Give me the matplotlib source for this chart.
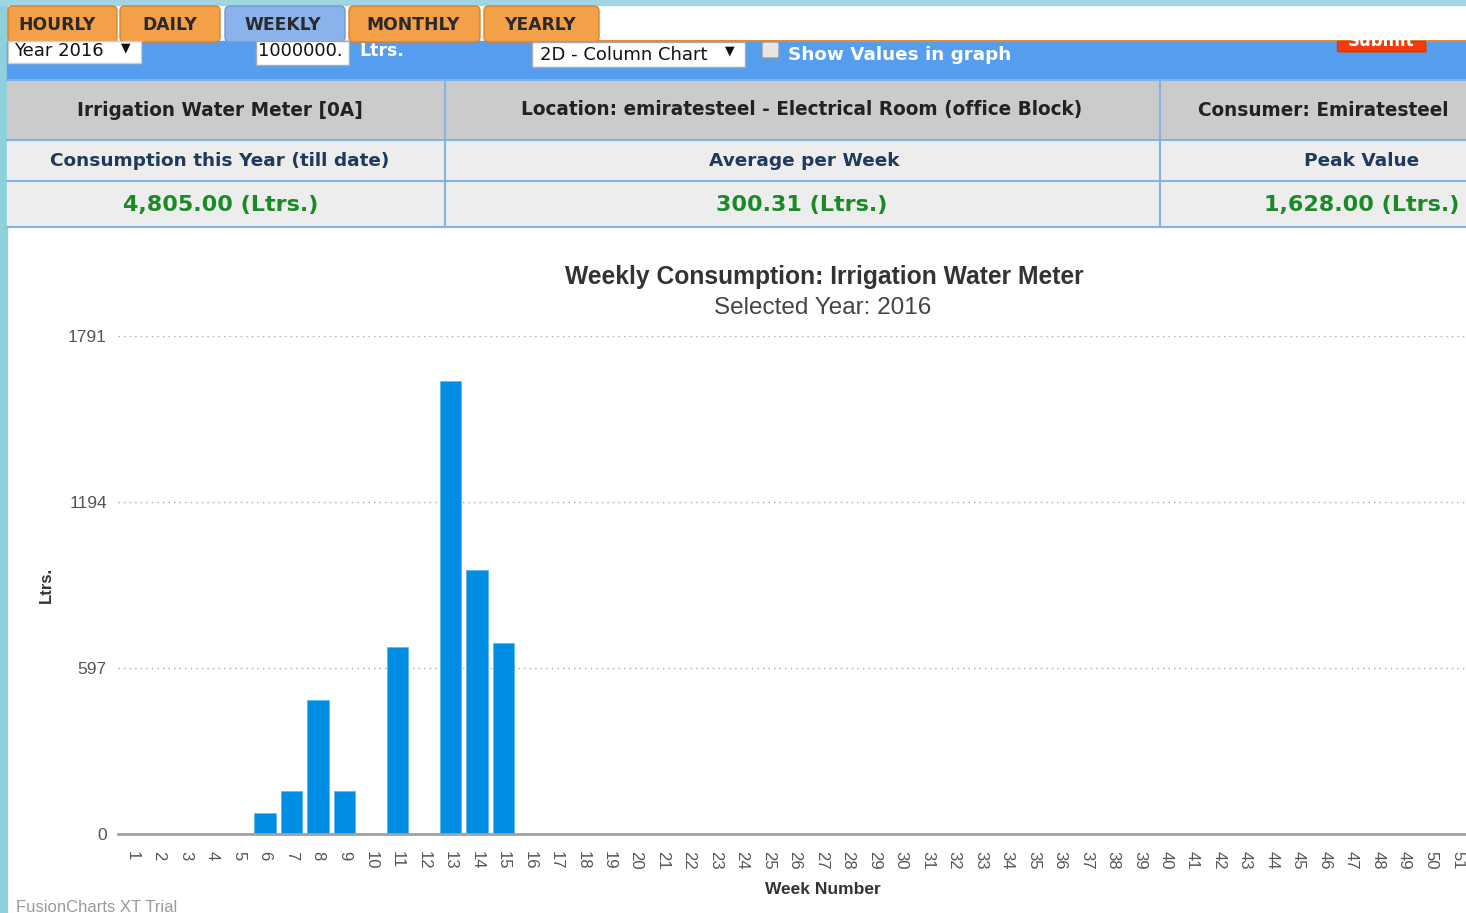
import matplotlib
matplotlib.use("Agg")
import matplotlib.pyplot as plt
from matplotlib.patches import Rectangle, FancyBboxPatch

# ---------------- data ----------------
tabs = ["HOURLY", "DAILY", "WEEKLY", "MONTHLY", "YEARLY"]
active_tab = "WEEKLY"
header_row = ["Irrigation Water Meter [0A]",
              "Location: emiratesteel - Electrical Room (office Block)",
              "Consumer: Emiratesteel"]
label_row = ["Consumption this Year (till date)", "Average per Week", "Peak Value"]
value_row = ["4,805.00 (Ltrs.)", "300.31 (Ltrs.)", "1,628.00 (Ltrs.)"]

weeks = [str(w) for w in range(1, 53)]
consumption = [0, 0, 0, 0, 0, 75, 155, 482, 155, 0, 674, 0, 1628, 950, 686, 0,
               0, 0, 0, 0, 0, 0, 0, 0, 0, 0, 0, 0, 0, 0, 0, 0, 0, 0, 0, 0,
               0, 0, 0, 0, 0, 0, 0, 0, 0, 0, 0, 0, 0, 0, 0, 0]
y_ticks = [0, 597, 1194, 1791]
chart_title = "Weekly Consumption: Irrigation Water Meter"
chart_subtitle = "Selected Year: 2016"

# ---------------- figure ----------------
W, H = 1466, 913
fig = plt.figure(figsize=(W / 100, H / 100), dpi=100)
fig.patch.set_facecolor("white")

ui = fig.add_axes([0, 0, 1, 1])
ui.set_xlim(0, W)
ui.set_ylim(H, 0)
ui.axis("off")

UIF = ["DejaVu Sans"]
CHF = ["Liberation Sans"]

# background texture strips
ui.add_patch(Rectangle((0, 0), 7, H, color="#8ed0dc", zorder=0))
ui.add_patch(Rectangle((0, 0), W, 5, color="#9fd6e2", zorder=0))

# tabs
tab_x = [(8, 117), (120, 220), (225, 345), (349, 480), (484, 599)]
tab_text_x = [57, 170, 283, 413, 540]
for name, (x0, x1), tx in zip(tabs, tab_x, tab_text_x):
    col = "#8ab3ec" if name == active_tab else "#f4a049"
    ec = "#6f98d6" if name == active_tab else "#d9822e"
    ui.add_patch(FancyBboxPatch((x0, 6), x1 - x0, 36, boxstyle="round,pad=0,rounding_size=5",
                                fc=col, ec=ec, lw=1, zorder=2))
    ui.text(tx, 25, name, ha="center", va="center", fontsize=12.3,
            fontweight="bold", color="#2a2a2a", family=UIF, zorder=3)
ui.plot([599, W], [41, 41], color="#e38a33", lw=1.5, zorder=2)

# blue control bar
ui.add_patch(Rectangle((7, 41), W - 7, 39, color="#559eef", zorder=1))
ui.add_patch(Rectangle((8, 41), 133, 22, fc="white", ec="#cccccc", zorder=2))
ui.text(14, 51, "Year 2016", ha="left", va="center", fontsize=13, color="#111", family=UIF, zorder=3)
ui.text(126, 48, "▼", ha="center", va="center", fontsize=9, color="#111", family=UIF, zorder=3)
ui.add_patch(Rectangle((256, 41), 93, 24, fc="white", ec="#aaaaaa", zorder=2))
ui.text(258, 51, "1000000.", ha="left", va="center", fontsize=12.8, color="#111", family=UIF, zorder=3)
ui.text(359, 51, "Ltrs.", ha="left", va="center", fontsize=12.5, fontweight="bold", color="white", family=UIF, zorder=3)
ui.add_patch(Rectangle((532, 42), 213, 25, fc="white", ec="#aaaaaa", zorder=2))
ui.text(540, 55, "2D - Column Chart", ha="left", va="center", fontsize=13, color="#111", family=UIF, zorder=3)
ui.text(730, 51, "▼", ha="center", va="center", fontsize=9, color="#111", family=UIF, zorder=3)
ui.add_patch(FancyBboxPatch((762, 42), 17, 16, boxstyle="round,pad=0,rounding_size=2",
                            fc="#e6e6e6", ec="#9a9a9a", lw=1, zorder=2))
ui.text(788, 55, "Show Values in graph", ha="left", va="center", fontsize=13.2,
        fontweight="bold", color="white", family=UIF, zorder=3)
ui.add_patch(Rectangle((1339, 43), 88, 10, fc="#9a7a6a", ec="none", zorder=2))
btn = Rectangle((1337, 41), 88, 10, fc="#f93a0a", ec="#c04020", lw=1, zorder=2)
ui.add_patch(btn)
t = ui.text(1381, 41, "Submit", ha="center", va="center", fontsize=12, fontweight="bold",
            color="white", family=UIF, zorder=3)
t.set_clip_path(btn)

# info table
rows_y = [(80, 140), (140, 181), (181, 227)]
row_bg = ["#cbcbcb", "#ededed", "#ededed"]
for (y0, y1), bg in zip(rows_y, row_bg):
    ui.add_patch(Rectangle((7, y0), W, y1 - y0, color=bg, zorder=1))
for yy in [80, 140, 181, 227]:
    ui.plot([7, W], [yy, yy], color="#7fb3ea", lw=1.5, zorder=2)
for xx in [445, 1160]:
    ui.plot([xx, xx], [80, 227], color="#7fb3ea", lw=1.5, zorder=2)
hdr_x = [220, 802, 1323]
lab_x = [220, 804, 1362]
val_x = [221, 802, 1362]
for i in range(3):
    ui.text(hdr_x[i], 110, header_row[i], ha="center", va="center", fontsize=13.35,
            fontweight="bold", color="#222222", family=UIF, zorder=3)
    ui.text(lab_x[i], 161, label_row[i], ha="center", va="center", fontsize=13.3,
            fontweight="bold", color="#1e3b5e", family=UIF, zorder=3)
    ui.text(val_x[i], 205, value_row[i], ha="center", va="center", fontsize=16,
            fontweight="bold", color="#1b8a26", family=UIF, zorder=3)

# chart titles and texts
ui.text(824, 277, chart_title, ha="center", va="center", fontsize=17.7, fontweight="bold",
        color="#333333", family=CHF, zorder=3)
ui.text(823, 308, chart_subtitle, ha="center", va="center", fontsize=17.5,
        color="#444444", family=CHF, zorder=3)
ui.text(46, 585, "Ltrs.", ha="center", va="center", rotation=90, fontsize=12, fontweight="bold",
        color="#333333", family=CHF, zorder=3)
ui.text(823, 890, "Week Number", ha="center", va="center", fontsize=12.5, fontweight="bold",
        color="#333333", family=CHF, zorder=3)
ui.text(16, 907, "FusionCharts XT Trial", ha="left", va="center", fontsize=12,
        color="#9a9a9a", family=CHF, zorder=3)

# ---------------- chart ----------------
left_px, right_px = 118, W
base_px, top_px = 834, 336
ax = fig.add_axes([left_px / W, 1 - base_px / H, (right_px - left_px) / W, (base_px - top_px) / H])
ax.set_facecolor("none")
step = 26.5
n_vis = (right_px - left_px) / step
xs = list(range(1, len(weeks) + 1))
ax.bar(xs, consumption, width=0.8, color="#008de4", edgecolor="#5cb8f0", linewidth=0.6, zorder=3)
ax.set_xticks(xs)
ax.set_xticklabels(weeks, rotation=-90, fontsize=12, color="#555555", family=CHF)
ax.set_yticks(y_ticks)
ax.set_yticklabels([str(t) for t in y_ticks], fontsize=12.5, color="#555555", family=CHF)
x0 = 0.45
ax.set_xlim(x0, x0 + n_vis)
ax.set_ylim(0, y_ticks[-1])
for t in y_ticks[1:]:
    ax.axhline(t, color="#aaaaaa", lw=1, ls=(0, (1, 3)), zorder=1)
ax.tick_params(axis="both", length=0)
ax.tick_params(axis="y", pad=8)
ax.tick_params(axis="x", pad=12)
for s in ["top", "right", "left"]:
    ax.spines[s].set_visible(False)
ax.spines["bottom"].set_color("#a0a0a0")
ax.spines["bottom"].set_linewidth(2)
ax.spines["bottom"].set_zorder(4)

fig.savefig("out.png", dpi=100)
